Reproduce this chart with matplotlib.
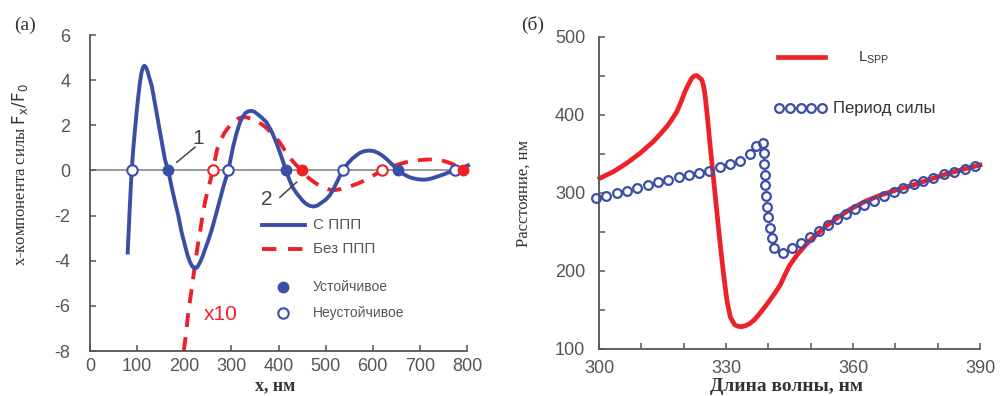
import matplotlib
matplotlib.use("Agg")
import matplotlib.pyplot as plt
from matplotlib.ticker import MultipleLocator

plt.rcParams['font.family'] = ['Liberation Sans', 'DejaVu Sans']
plt.rcParams['axes.unicode_minus'] = False

BLUE = '#3a4ea6'
RED = '#ee2128'
GRAY = '#555555'
SERIF = ['Liberation Serif', 'DejaVu Serif']

# (a) x-компонента силы, С ППП
x_spp = [80, 84, 88.4, 92, 95.5, 99, 102.6, 106, 109, 112,
         115.2, 118.5, 122, 126, 131, 138, 145, 152, 159, 166,
         175, 181, 187.4, 194, 201.6, 207, 212, 217, 222.8, 228,
         234, 239, 244, 251, 258, 266, 275, 284, 293.5, 304,
         311, 318, 324, 330, 336, 343, 349, 355, 365, 375,
         386, 396, 406, 416, 423, 430, 438, 445.7, 453, 460,
         467, 474, 482, 490, 500, 509, 516, 522, 529, 536,
         543, 550, 558, 566, 573, 580, 587, 594, 603, 612,
         621, 630, 642, 654.5, 662, 670, 678, 686, 693, 700,
         707, 714.6, 722, 730, 740, 750, 762, 774.6, 782, 790,
         796, 802]
y_spp = [-3.64, -1.8, 0, 1.0, 1.82, 2.6, 3.3, 3.9, 4.3, 4.55,
         4.64, 4.58, 4.4, 4.1, 3.75, 2.95, 2.12, 1.3, 0.49, 0,
         -0.9, -1.45, -2.0, -2.7, -3.33, -3.75, -4.05, -4.25, -4.35, -4.28,
         -4.05, -3.8, -3.5, -3.1, -2.65, -2.05, -1.35, -0.65, 0, 1.08,
         1.65, 2.12, 2.38, 2.55, 2.62, 2.64, 2.6, 2.5, 2.33, 2.12,
         1.7, 1.2, 0.62, 0, -0.4, -0.75, -1.0, -1.2, -1.38, -1.5,
         -1.57, -1.6, -1.56, -1.45, -1.3, -1.1, -0.85, -0.6, -0.3, 0,
         0.2, 0.38, 0.55, 0.68, 0.78, 0.84, 0.87, 0.88, 0.85, 0.77,
         0.65, 0.49, 0.25, 0, -0.12, -0.22, -0.3, -0.35, -0.38, -0.4,
         -0.41, -0.4, -0.37, -0.32, -0.25, -0.18, -0.08, 0, 0.06, 0.12,
         0.17, 0.22]

# Без ППП (x10)
x_nospp = [199, 201.6, 205, 208, 212, 215.8, 220, 224, 228.5, 233.4,
           238.5, 244, 249, 254.7, 261, 265.5, 270, 275, 280, 285,
           290, 296, 302, 308, 314.7, 321, 327, 333, 339.5, 346,
           353, 360, 367.8, 376, 385, 394, 403, 413, 424, 436,
           449, 455, 462, 470, 477.5, 486, 495, 505, 515, 527,
           540, 553, 566, 579, 592, 605, 619, 632, 645, 658,
           672, 686, 700, 714, 728.5, 740, 750, 761, 771, 782,
           792]
y_nospp = [-8.0, -7.6, -7.0, -6.4, -5.8, -5.25, -4.6, -4.0, -3.35, -2.74,
           -2.05, -1.4, -0.95, -0.5, 0, 0.5, 0.95, 1.22, 1.45, 1.65,
           1.8, 1.97, 2.1, 2.2, 2.3, 2.34, 2.36, 2.35, 2.3, 2.26,
           2.2, 2.1, 2.0, 1.85, 1.65, 1.45, 1.23, 0.9, 0.56, 0.27,
           0, -0.15, -0.3, -0.43, -0.55, -0.65, -0.75, -0.83, -0.88, -0.85,
           -0.78, -0.7, -0.6, -0.48, -0.35, -0.18, 0, 0.1, 0.2, 0.29,
           0.37, 0.42, 0.46, 0.48, 0.49, 0.47, 0.42, 0.35, 0.27, 0.14,
           0]

# точки равновесия
stable_blue = [166, 416, 654.5]
unstable_blue = [88.4, 293.5, 536, 774.6]
stable_red = [449, 792]
unstable_red = [261, 619]

# (б) L_SPP
wl_lspp = [300.2, 303.4, 306.5, 309.7, 312.8, 314.4, 316, 317.2, 318.4, 319.4,
           320.3, 321.2, 321.9, 322.5, 323.1, 323.7, 324.3, 324.7, 325, 325.6,
           326.2, 327, 327.8, 328.6, 329.4, 330.2, 331, 331.6, 332.1, 332.9,
           333.7, 334.7, 335.7, 336.8, 338, 339.2, 340.4, 341.6, 342.8, 344,
           345.1, 347, 349.1, 351.4, 353.8, 356.5, 359.3, 362.8, 366.4, 370.3,
           374.3, 378.2, 382.1, 386, 390]
l_spp = [318.8, 327.3, 338, 350.9, 365.8, 375, 385, 394, 404.3, 417,
         429.9, 440, 447, 450, 450.5, 448, 444.9, 437, 427.8, 397.8,
         363.7, 320.9, 278.2, 235.5, 197, 162.8, 141.4, 135, 130.8, 129,
         128.6, 130, 132.9, 138, 145.7, 154, 162.8, 172, 182, 196,
         208, 222, 235, 247, 258, 269, 279, 289, 297, 304,
         310.3, 317.5, 324.4, 330.3, 335.9]

# Период силы
wl_period = [299.4, 301.7, 304.2, 306.6, 309.0, 311.5, 313.9, 316.3, 318.8, 321.2, 323.6,
             326.1, 328.5, 330.9, 333.4, 335.7, 337.1, 338.8, 338.9, 339.0, 339.1, 339.3,
             339.4, 339.6, 340.0, 340.4, 340.9, 341.4, 343.4, 345.7, 347.7, 349.8, 352.0,
             354.0, 356.2, 358.4, 360.5, 362.7, 365.0, 367.3, 369.6, 371.9, 374.3, 376.6,
             379.0, 381.5, 383.9, 386.5, 388.9]
period = [293, 296.2, 299.6, 302.6, 306.8, 310.7, 313.7, 317, 320.1, 322.6, 325.2, 328.2,
          332.9, 336.8, 341.6, 349.6, 360, 364.5, 350.9, 337.2, 323.5, 309.9, 296.2, 282.4,
          268.8, 255.1, 241.9, 229.5, 222.6, 229, 236.3, 244, 251.7, 258.5, 266.2, 272.7,
          279, 285, 290, 296, 301.7, 306, 311, 315.8, 319.6, 324, 327.3, 331.2, 334.6]

fig = plt.figure(figsize=(10, 3.96), dpi=100)
ax1 = fig.add_axes([0.09, 0.1136, 0.377, 0.798])
ax2 = fig.add_axes([0.599, 0.1187, 0.381, 0.788])

for ax in (ax1, ax2):
    for s in ('top', 'right'):
        ax.spines[s].set_visible(False)
    for s in ('left', 'bottom'):
        ax.spines[s].set_color(GRAY)
        ax.spines[s].set_linewidth(1.3)
    ax.tick_params(which='both', direction='in', length=4, width=1.1, color=GRAY,
                   labelcolor=GRAY, labelsize=13)

# ---- (a)
ax1.axhline(0, color='#999999', lw=1.4, zorder=1)
ax1.plot(x_nospp, y_nospp, color=RED, lw=2.8, dashes=(3.6, 2.6), zorder=2, clip_on=False)
ax1.plot(x_spp, y_spp, color=BLUE, lw=2.8, zorder=3, clip_on=False)
ax1.plot(stable_blue, [0] * len(stable_blue), 'o', ms=7.5, color=BLUE, zorder=4)
ax1.plot(unstable_blue, [0] * len(unstable_blue), 'o', ms=7.5, mfc='white', mec=BLUE,
         mew=1.5, zorder=4, clip_on=False)
ax1.plot(stable_red, [0] * len(stable_red), 'o', ms=7.5, color=RED, zorder=4, clip_on=False)
ax1.plot(unstable_red, [0] * len(unstable_red), 'o', ms=7.5, mfc='white', mec=RED,
         mew=1.5, zorder=4)

ax1.set_xlim(0, 800)
ax1.set_ylim(-8, 6)
ax1.xaxis.set_major_locator(MultipleLocator(100))
ax1.yaxis.set_major_locator(MultipleLocator(2))
ax1.tick_params(axis='y', pad=14)
ax1.tick_params(axis='x', pad=5)

ax1.plot([184, 222.8], [0.36, 1.03], color='#444444', lw=1.1, zorder=5)
ax1.text(229, 1.4, '1', fontsize=15, color='#444444', ha='center', va='center')
ax1.plot([403, 438.6], [-1.19, -0.52], color='#444444', lw=1.1, zorder=5)
ax1.text(376, -1.3, '2', fontsize=15, color='#444444', ha='center', va='center')
ax1.text(242, -6.4, 'x10', fontsize=15, color=RED, ha='left', va='center')

# легенда (a)
ax1.plot([364, 456], [-2.42, -2.42], color=BLUE, lw=2.8)
ax1.text(474, -2.42, 'С ППП', fontsize=11, color=GRAY, va='center')
ax1.plot([364, 456], [-3.49, -3.49], color=RED, lw=2.8, dashes=(3.7, 3.0))
ax1.text(474, -3.49, 'Без ППП', fontsize=11, color=GRAY, va='center')
ax1.plot([410], [-5.15], 'o', ms=7.5, color=BLUE)
ax1.text(472, -5.15, 'Устойчивое', fontsize=10, color=GRAY, va='center')
ax1.plot([410], [-6.3], 'o', ms=7.5, mfc='white', mec=BLUE, mew=1.5)
ax1.text(472, -6.3, 'Неустойчивое', fontsize=10, color=GRAY, va='center')

ax1.set_xlabel('х, нм', family=SERIF, fontsize=13, fontweight='bold', color='#333333',
               va='baseline')
ax1.xaxis.set_label_coords(0.49, -0.123)
ax1.set_ylabel(r'х-компонента силы $\mathsf{F_x/F_0}$', family=SERIF, fontsize=12,
               color='#333333')
ax1.yaxis.set_label_coords(-0.159, 0.557)
fig.text(0.025, 0.937, '(a)', family=SERIF, fontsize=14, color='#333333',
         ha='center', va='center')

# ---- (б)
ax2.plot(wl_lspp, l_spp, color=RED, lw=3.4, zorder=2, clip_on=False)
ax2.plot(wl_period, period, 'o', ms=6.3, mfc='none', mec=BLUE, mew=1.6, zorder=3,
         clip_on=False)
ax2.set_xlim(300, 390)
ax2.set_ylim(100, 500)
ax2.xaxis.set_major_locator(MultipleLocator(30))
ax2.xaxis.set_minor_locator(MultipleLocator(10))
ax2.yaxis.set_major_locator(MultipleLocator(100))
ax2.yaxis.set_minor_locator(MultipleLocator(50))
ax2.tick_params(axis='y', pad=10)
ax2.tick_params(axis='x', pad=8)

# легенда (б)
ax2.plot([0.47, 0.593], [0.935, 0.935], transform=ax2.transAxes, color=RED, lw=3.4)
ax2.text(0.68, 0.935, r'L$_{\mathregular{SPP}}$', transform=ax2.transAxes, fontsize=11,
         color='#333333', va='center')
ax2.plot([0.473, 0.501, 0.529, 0.557, 0.585], [0.771] * 5, 'o', transform=ax2.transAxes,
         ms=6.3, mfc='none', mec=BLUE, mew=1.6)
ax2.text(0.615, 0.771, 'Период силы', transform=ax2.transAxes, fontsize=12,
         color='#333333', va='center')

ax2.set_xlabel('Длина волны, нм', family=SERIF, fontsize=14, fontweight='bold',
               color='#333333', va='baseline')
ax2.xaxis.set_label_coords(0.493, -0.134)
ax2.set_ylabel('Расстояние, нм', family=SERIF, fontsize=12, color='#333333')
ax2.yaxis.set_label_coords(-0.176, 0.5)
fig.text(0.533, 0.937, '(б)', family=SERIF, fontsize=14, color='#333333',
         ha='center', va='center')

fig.savefig('out.png', dpi=100)
